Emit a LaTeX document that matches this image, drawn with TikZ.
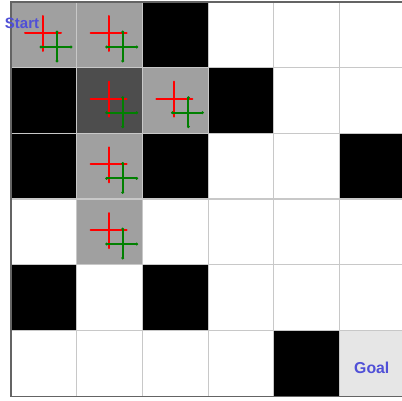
\documentclass[tikz,border=0pt]{standalone}
\usepackage{fontspec}
\setmainfont{Liberation Sans}
\definecolor{cellgray}{RGB}{160,160,160}
\definecolor{celldark}{RGB}{77,77,77}
\definecolor{goalgray}{RGB}{230,230,230}
\definecolor{gridline}{RGB}{200,200,200}
\definecolor{borderc}{RGB}{100,100,100}
\definecolor{labelblue}{RGB}{80,80,215}
\definecolor{crossred}{RGB}{255,0,0}
\definecolor{crossgreen}{RGB}{0,128,0}
\tikzset{
  redarm/.style={draw=crossred, line width=2pt, line cap=round},
  greenarm/.style={draw=crossgreen, line width=2pt, line cap=round},
  enddot/.style={fill=crossgreen},
  celltext/.style={text=labelblue, inner sep=0pt, anchor=base}
}
\newcommand\gcell[3]{\fill[#3] ({11+#2*65.7},{2+#1*65.7}) rectangle ++(65.7,65.7);}
\begin{document}
\begin{tikzpicture}[x=1pt,y=-1pt]
\useasboundingbox (0,0) rectangle (402,401);
\clip (0,0) rectangle (402,401);
\fill[white] (0,0) rectangle (402,401);
% cells
\gcell{0}{0}{cellgray}
\gcell{0}{1}{cellgray}
\gcell{0}{2}{black}
\gcell{1}{0}{black}
\gcell{1}{1}{celldark}
\gcell{1}{2}{cellgray}
\gcell{1}{3}{black}
\gcell{2}{0}{black}
\gcell{2}{1}{cellgray}
\gcell{2}{2}{black}
\gcell{2}{5}{black}
\gcell{3}{1}{cellgray}
\gcell{4}{0}{black}
\gcell{4}{2}{black}
\gcell{5}{4}{black}
\gcell{5}{5}{goalgray}
% grid lines
\foreach \i in {1,...,5} {
  \draw[gridline, line width=1.2pt] ({11+\i*65.7},2) -- ({11+\i*65.7},396.2);
  \draw[gridline, line width=1.2pt] (11,{2+\i*65.7}) -- (405,{2+\i*65.7});
}
% outer border
\draw[borderc, line width=1.5pt] (405,2) -- (11,2) -- (11,396.5) -- (405,396.5);
% crosses
\foreach \r/\c in {0/0,0/1,1/1,1/2,2/1,3/1} {
  \begin{scope}[shift={({11+\c*65.7},{2+\r*65.7})}]
    \draw[redarm] (14,31) -- (50,31);
    \draw[redarm] (32,14) -- (32,49);
    \draw[greenarm] (30,45) -- (60,45);
    \draw[greenarm] (46,30) -- (46,59);
    \foreach \p in {(30,45),(60,45),(46,30),(46,59)} \fill[enddot] \p circle (1.6pt);
  \end{scope}
}
% labels
\node[celltext, font=\bfseries\fontsize{15}{15}\selectfont] (start) at (22,28.3) {Start};
\node[celltext, font=\bfseries\fontsize{15.8}{16}\selectfont] (goal) at (371.8,373) {Goal};
\end{tikzpicture}
\end{document}
